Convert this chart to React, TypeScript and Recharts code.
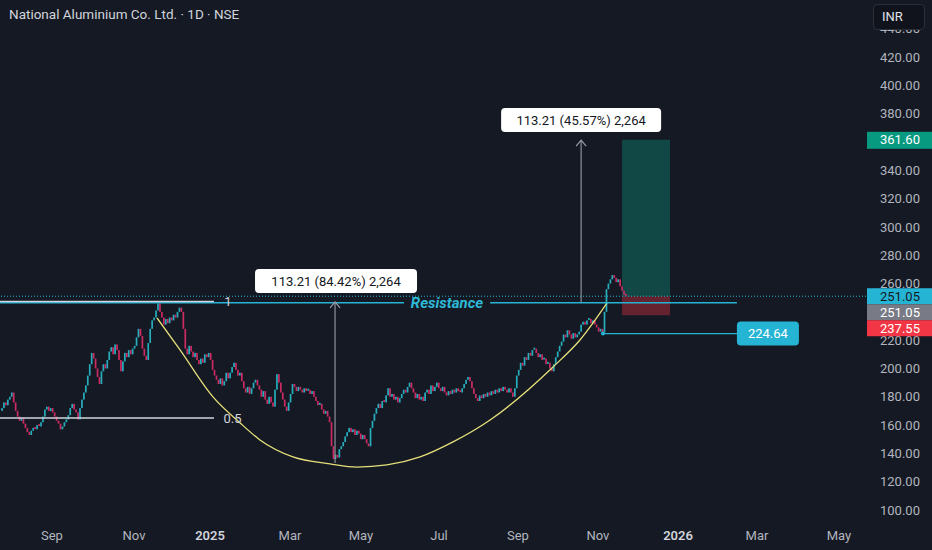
import React from "react"
import {
  ComposedChart,
  Bar,
  Line,
  XAxis,
  YAxis,
  ReferenceLine,
  ReferenceArea,
  ReferenceDot,
} from "recharts"

// daily closes, NALCO, Aug 2024 -> Nov 2025 (bar index = trading day)
const CLOSES = [
  172, 176, 174, 178, 180, 183, 176, 170, 166, 163, 165, 161, 158, 155, 153, 156, 158, 157, 160, 159, 162, 166, 171, 173, 170, 172,
  169, 166, 163, 161, 157, 159, 162, 164, 167, 172, 175, 171, 169, 164, 172, 178, 183, 188, 195, 203, 211, 207, 200, 194, 189,
  198, 203, 200, 206, 212, 215, 210, 217, 213, 206, 198, 205, 211, 208, 213, 210, 214, 216, 222, 228, 223, 214, 209, 206, 218, 228, 234, 236, 241, 246,
  240, 236, 231, 235, 232, 236, 234, 238, 236, 240, 243, 240, 228, 214, 210, 216, 212, 208, 211, 206,
  203, 207, 204, 210, 208, 211, 206, 199, 195, 192, 189, 193, 188, 191, 197, 193, 197, 201, 204, 199, 195, 197, 191, 186, 183, 187, 182, 186, 190, 192,
  188, 185, 180, 184, 178, 175, 180, 176, 173, 185, 196, 190, 183, 178, 173, 170, 176, 182, 189, 187, 184, 187, 185, 183, 186, 184, 185, 182, 184, 180, 177, 174, 175, 171, 168,
  170, 166, 162, 145, 136, 139, 137, 143, 145, 148, 152, 155, 158, 155, 157, 153, 156, 154, 150, 153, 150, 147, 145, 158, 163, 168, 172, 175, 172, 177, 176, 181, 186, 180, 182,
  178, 180, 176, 179, 182, 185, 183, 187, 190, 186, 183, 179, 182, 178, 180, 177, 183, 185, 182, 188, 184, 187, 190, 186, 184, 187, 183, 181, 184, 182, 185, 183, 186, 184, 183,
  186, 189, 192, 194, 191, 186, 182, 179, 177, 181, 179, 182, 180, 183, 181, 184, 182, 185, 183, 186, 184, 187, 185, 183, 186, 183, 180, 186, 195, 199, 204, 202, 208, 206, 211,
  209, 213, 214, 211, 208, 210, 206, 207, 203, 204, 200, 198, 203, 208, 212, 216, 219, 224, 222, 227, 224, 221, 225, 222, 224, 226, 231, 233, 231, 234, 235, 232, 234, 231, 229,
  226, 228, 225.5, 240, 256, 260, 263, 266, 264, 261, 263, 258, 255, 252, 251.05,
]
const FIRST_OPEN = 170

const TICK_POS = [25.6, 67.7, 106.7, 147.7, 184.1, 224.1, 264.6, 305.6, 346.7, 387.2, 429.2]
const TICK_LABELS = ["Sep", "Nov", "2025", "Mar", "May", "Jul", "Sep", "Nov", "2026", "Mar", "May"]
const PRICE_TICKS = [100, 120, 140, 160, 180, 200, 220, 240, 260, 280, 300, 320, 340, 360, 380, 400, 420, 440]
// ticks sitting under the coloured price tags
const HIDDEN_TICKS = [240, 360]

// cup drawn on the chart
const CUP_I = [79.5, 91.3, 108.2, 122.1, 132.3, 149.2, 168.2, 182, 197.4, 214.4, 231.3, 250.3, 282.6, 296.4, 310.3]
const CUP_P = [235.7, 213.1, 179.9, 161.5, 149.5, 137.5, 132.6, 130.3, 131.8, 137.5, 148.1, 163.6, 201.1, 220.1, 246.3]

const X_MIN = -1.03
const X_MAX = 443.1
const Y_MIN = 91.5
const Y_MAX = 460.4

const FIB_ONE = 247.3
const FIB_HALF = 165
const FIB_END = 108.7
const RESISTANCE = 246.5
const RES_END = 376.9
const LAST = 251.05
const TARGET = 361.6
const STOP = 237.55
const SWING_LOW = 224.64
const SWING_I = 308.2
const LONG_I = [318, 342.6]
const MEASURE_1 = { i: 170.8, from: 133.2, to: 247, text: "113.21 (84.42%) 2,264", labelAt: 261.8 }
const MEASURE_2 = { i: 297, from: 247, to: 361.3, text: "113.21 (45.57%) 2,264", labelAt: 375.6 }

const UP = "#27aebd"
const DOWN = "#cc2b63"
const CYAN = "#26b4d4"
const BG = "#151923"
const FONT = "Roboto, sans-serif"

const candles = CLOSES.map((c, i) => {
  const o = i ? CLOSES[i - 1] : FIRST_OPEN
  return { i, o, c, body: [Math.min(o, c), Math.max(o, c)] }
})
const cup = CUP_I.map((i, k) => ({ i, p: CUP_P[k] }))

const Candle = (p: any) => {
  const h = Math.max(Math.abs(p.height || 0), 2)
  const top = Math.min(p.y, p.y + (p.height || 0)) - (h > Math.abs(p.height || 0) ? 1 : 0)
  return (
    <rect x={p.x + p.width / 2 - 0.85} y={top} width={1.7} height={h}
      fill={p.payload.c >= p.payload.o ? UP : DOWN} />
  )
}

const XTick = (props: any) => {
  const label = TICK_LABELS[props.index]
  const year = /^\d{4}$/.test(label)
  return (
    <text x={props.x} y={props.y} dy="0.71em" textAnchor="middle" fontSize={13} fontFamily={FONT}
      fill={year ? "#d1d4dc" : "#b2b5be"} fontWeight={year ? 600 : 400}>
      {label}
    </text>
  )
}

const YTick = (props: any) => {
  const v = props.payload.value
  if (HIDDEN_TICKS.includes(v)) return <g />
  return (
    <text x={props.x} y={props.y} dy="0.355em" textAnchor="start" fontSize={13} fontFamily={FONT} fill="#b2b5be">
      {v.toFixed(2)}
    </text>
  )
}

const whiteBox = (text: string, w: number) => (p: any) => (
  <g>
    <rect x={p.cx - w / 2} y={p.cy - 12} width={w} height={24} rx={4} fill="#ffffff" />
    <text x={p.cx} y={p.cy} dy="0.36em" textAnchor="middle" fontSize={13} fontFamily={FONT} fill="#131722">
      {text}
    </text>
  </g>
)

const arrowHead = (p: any) => (
  <path d={`M${p.cx - 5},${p.cy + 6} L${p.cx},${p.cy} L${p.cx + 5},${p.cy + 6}`} stroke="#9a9da6" strokeWidth={1.2} fill="none" />
)

const axisLabels = (p: any) => {
  const rows = [
    { text: LAST.toFixed(2), bg: CYAN, fg: "#131722" },
    { text: LAST.toFixed(2), bg: "#787b86", fg: "#ffffff" },
    { text: STOP.toFixed(2), bg: "#f23645", fg: "#ffffff" },
  ]
  return (
    <g>
      {rows.map((r, k) => (
        <g key={k}>
          <rect x={p.cx + 1} y={p.cy - 8 + k * 16} width={66} height={16} fill={r.bg} />
          <text x={p.cx + 14} y={p.cy + k * 16} dy="0.36em" fontSize={13} fontFamily={FONT} fill={r.fg}>
            {r.text}
          </text>
        </g>
      ))}
    </g>
  )
}

const targetLabel = (p: any) => (
  <g>
    <rect x={p.cx + 1} y={p.cy - 8} width={66} height={17} fill="#089981" />
    <text x={p.cx + 14} y={p.cy} dy="0.36em" fontSize={13} fontFamily={FONT} fill="#ffffff">
      {TARGET.toFixed(2)}
    </text>
  </g>
)

const swingLabel = (p: any) => (
  <g>
    <rect x={p.cx} y={p.cy - 12} width={62} height={24} rx={4} fill={CYAN} />
    <text x={p.cx + 31} y={p.cy} dy="0.36em" textAnchor="middle" fontSize={13} fontFamily={FONT} fill="#ffffff">
      {SWING_LOW.toFixed(2)}
    </text>
  </g>
)

const swingDot = (p: any) => <circle cx={p.cx} cy={p.cy} r={2} fill={CYAN} />

const plainText = (text: string, fill: string, size: number, extra: any = {}) => (p: any) => (
  <text x={p.cx} y={p.cy} dy="0.36em" textAnchor="middle" fontSize={size} fontFamily={FONT} fill={fill} {...extra}>
    {text}
  </text>
)

export default function App() {
  return (
    <div style={{ position: "relative", width: 932, height: 550, background: BG }}>
      <style>{`body{margin:0;background:${BG}}`}</style>
      <ComposedChart width={932} height={550} data={candles} margin={{ top: 0, right: 0, left: 0, bottom: 0 }}>
        <XAxis dataKey="i" type="number" domain={[X_MIN, X_MAX]} allowDataOverflow ticks={TICK_POS}
          tick={<XTick />} tickLine={false} axisLine={false} tickSize={0} tickMargin={9} height={28} interval={0} />
        <YAxis orientation="right" type="number" domain={[Y_MIN, Y_MAX]} allowDataOverflow ticks={PRICE_TICKS}
          tick={<YTick />} tickLine={false} axisLine={false} tickSize={0} tickMargin={14} width={66} interval={0} />

        <ReferenceArea x1={LONG_I[0]} x2={LONG_I[1]} y1={LAST} y2={TARGET} fill="#0a9a82" fillOpacity={0.36} stroke="none" ifOverflow="visible" />
        <ReferenceArea x1={LONG_I[0]} x2={LONG_I[1]} y1={STOP} y2={LAST} fill="#f23645" fillOpacity={0.36} stroke="none" ifOverflow="visible" />

        <Bar dataKey="body" barSize={2} shape={<Candle />} isAnimationActive={false} />

        <Line data={cup} dataKey="p" type="monotone" stroke="#e6df7a" strokeWidth={1.3}
          dot={false} activeDot={false} isAnimationActive={false} />

        <ReferenceLine y={LAST} stroke={CYAN} strokeDasharray="1 2" strokeWidth={1} />
        <ReferenceLine segment={[{ x: X_MIN, y: RESISTANCE }, { x: 206.2, y: RESISTANCE }]} stroke={CYAN} strokeWidth={1.5} />
        <ReferenceLine segment={[{ x: 250.3, y: RESISTANCE }, { x: RES_END, y: RESISTANCE }]} stroke={CYAN} strokeWidth={1.5} />
        <ReferenceDot x={228.2} y={RESISTANCE} r={0}
          shape={plainText("Resistance", "#2fb8d6", 15, { fontWeight: 700, fontStyle: "italic" })} />

        <ReferenceLine segment={[{ x: X_MIN, y: FIB_ONE }, { x: FIB_END, y: FIB_ONE }]} stroke="#d1d4dc" strokeWidth={1.5} />
        <ReferenceLine segment={[{ x: X_MIN, y: FIB_HALF }, { x: FIB_END, y: FIB_HALF }]} stroke="#d1d4dc" strokeWidth={1.5} />
        <ReferenceDot x={115.9} y={FIB_ONE} r={0} shape={plainText("1", "#d1d4dc", 13)} />
        <ReferenceDot x={118.2} y={FIB_HALF} r={0} shape={plainText("0.5", "#d1d4dc", 13)} />

        <ReferenceLine segment={[{ x: SWING_I, y: SWING_LOW }, { x: RES_END, y: SWING_LOW }]} stroke={CYAN} strokeWidth={1.2} />
        <ReferenceDot x={SWING_I} y={SWING_LOW} r={0} shape={swingDot} />
        <ReferenceDot x={RES_END} y={SWING_LOW} r={0} shape={swingLabel} ifOverflow="visible" />

        {[MEASURE_1, MEASURE_2].map((m, k) => (
          <ReferenceLine key={"m" + k} segment={[{ x: m.i, y: m.from }, { x: m.i, y: m.to }]} stroke="#8f929b" strokeWidth={1.2} />
        ))}
        <ReferenceDot x={MEASURE_1.i} y={MEASURE_1.to} r={0} shape={arrowHead} />
        <ReferenceDot x={MEASURE_2.i} y={MEASURE_2.to} r={0} shape={arrowHead} />
        <ReferenceDot x={MEASURE_1.i + 0.5} y={MEASURE_1.labelAt} r={0} shape={whiteBox(MEASURE_1.text, 162)} />
        <ReferenceDot x={MEASURE_2.i} y={MEASURE_2.labelAt} r={0} shape={whiteBox(MEASURE_2.text, 160)} />

        <ReferenceDot x={X_MAX} y={TARGET} r={0} shape={targetLabel} ifOverflow="visible" zIndex={2000} />
        <ReferenceDot x={X_MAX} y={LAST} r={0} shape={axisLabels} ifOverflow="visible" zIndex={2000} />
      </ComposedChart>

      <div style={{ position: "absolute", left: 9, top: 6, fontFamily: FONT, fontSize: 13.5, color: "#d1d4dc" }}>
        National Aluminium Co. Ltd. · 1D · NSE
      </div>
      <div style={{
        position: "absolute", left: 873, top: 4, width: 52, height: 26, boxSizing: "border-box",
        background: "#10131b", border: "1px solid #2a2e39", borderRadius: 4, color: "#e0e3eb",
        fontFamily: FONT, fontSize: 13, lineHeight: "24px", paddingLeft: 8,
      }}>
        INR
      </div>
    </div>
  )
}
